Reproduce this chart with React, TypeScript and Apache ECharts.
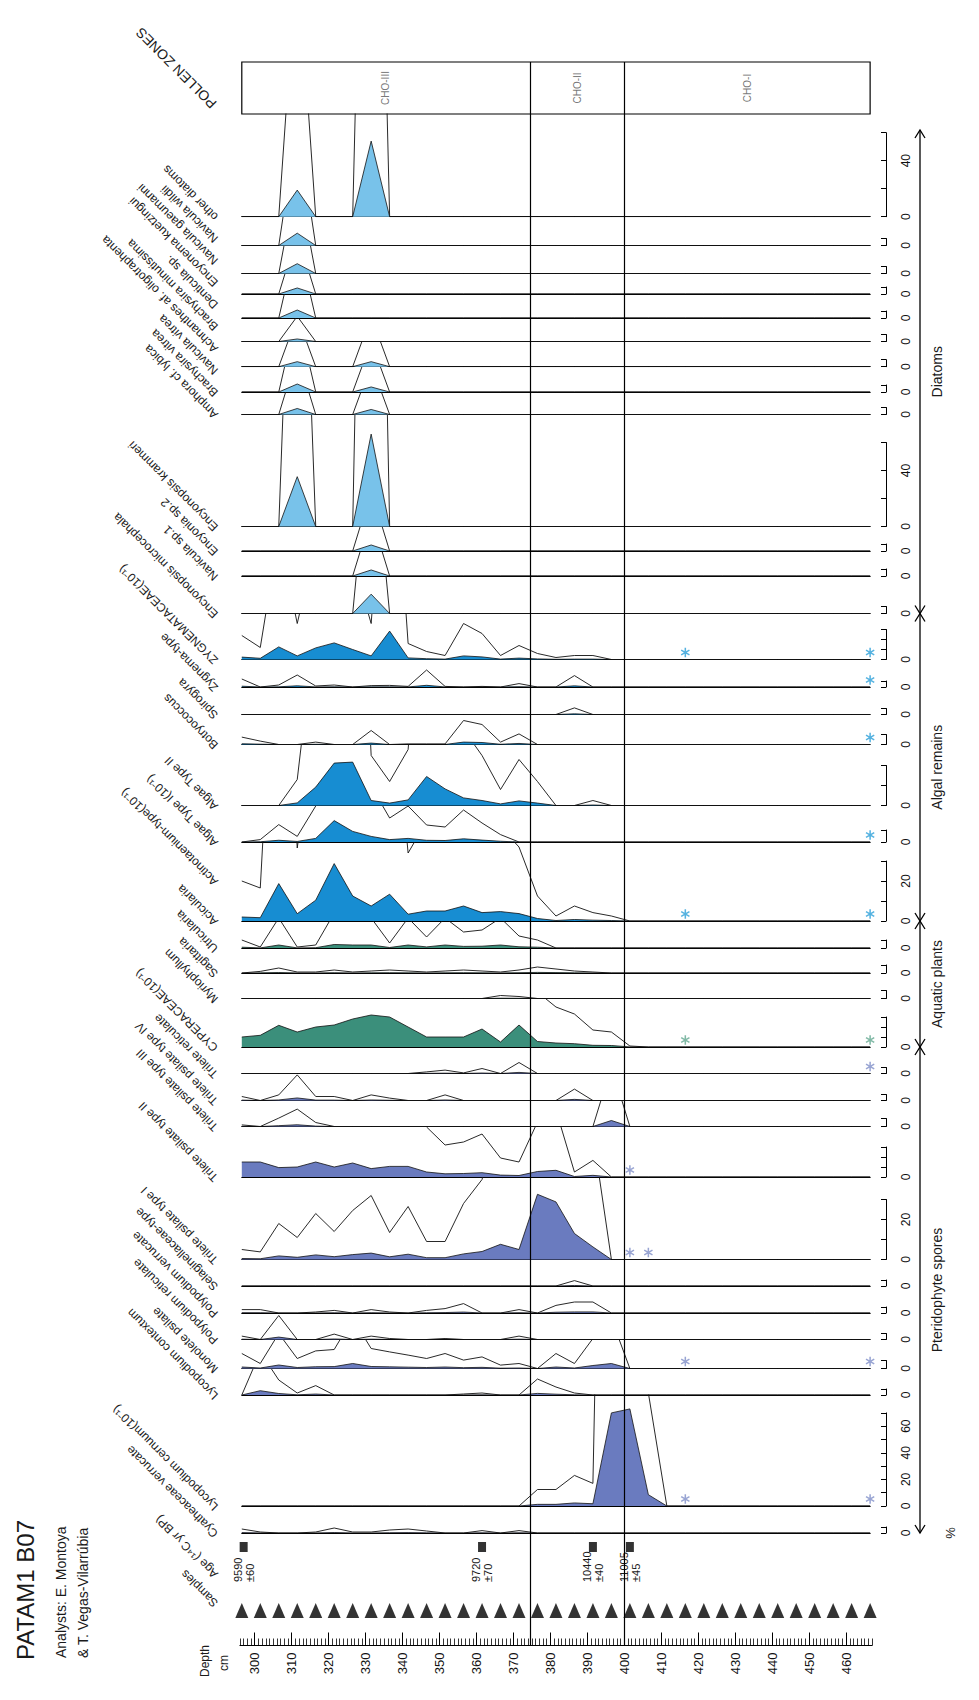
import React, { useEffect, useRef } from "react";
import * as echarts from "echarts";

const FONT = "'Liberation Sans', Arial, Helvetica, sans-serif";

// ---------------- data ----------------
const depths = [
  296.5, 301.5, 306.5, 311.5, 316.5, 321.5, 326.5, 331.5, 336.5, 341.5, 346.5, 351.5,
  356.5, 361.5, 366.5, 371.5, 376.5, 381.5, 386.5, 391.5, 396.5, 401.5, 406.5, 411.5,
  416.5, 421.5, 426.5, 431.5, 436.5, 441.5, 446.5, 451.5, 456.5, 461.5, 466.5,
];
const zoneNames = ["CHO-III", "CHO-II", "CHO-I"];
const zoneBounds = [374.5, 400];
const ageDepths = [297, 361.5, 391.5, 401.5];
const ageValues = ["9590", "9720", "10440", "11005"];
const ageErrors = ["±60", "±70", "±40", "±45"];

// diatoms (%)
const otherDiatoms = [0, 0, 0, 19, 0, 0, 0, 54];
const navWildii = [0, 0, 0, 8.8];
const navGaeumanni = [0, 0, 0, 7];
const encKuetzingui = [0, 0, 0, 4.3];
const denticulaSp = [0, 0, 0, 5.7];
const brachyMinutissima = [0, 0, 0, 1.8];
const achnOligotraphenta = [0, 0, 0, 3.6, 0, 0, 0, 3.6];
const navVitrea = [0, 0, 0, 5.7, 0, 0, 0, 3.6];
const amphoraLybica = [0, 0, 0, 4.3, 0, 0, 0, 3.6];
const encKrammeri = [0, 0, 0, 35.6, 0, 0, 0, 66];
const encyoniaSp2 = [0, 0, 0, 0, 0, 0, 0, 4.3];
const naviculaSp1 = [0, 0, 0, 0, 0, 0, 0, 4.3];
const encMicrocephala = [0, 0, 0, 0, 0, 0, 0, 13.8];
// algal remains (%)
const zygnemataceae = [1.2, 0.6, 6.3, 1.8, 5.8, 8.3, 5, 1.8, 14.2, 0.8, 0.4, 0.2, 1.8, 1.3, 0.2, 0.7, 0.3, 0.1, 0.2, 0.2];
const zygnemaType = [0.4, 0, 0.1, 0.6, 0.05, 0.1, 0, 0.07, 0.08, 0.03, 0.85, 0.03, 0, 0.03, 0, 0.17, 0, 0, 0.57];
const spirogyra = [0, 0, 0, 0, 0, 0, 0, 0, 0, 0, 0, 0, 0, 0, 0, 0, 0, 0, 0.33];
const botryococcus = [0.37, 0.17, 0, 0, 0.12, 0, 0, 0.7, 0, 0.03, 0.03, 0.03, 1.2, 1.0, 0.12, 0.53];
const algaeTypeII = [0, 0, 0, 1.3, 9.2, 21.2, 21.7, 2.5, 1.2, 2.8, 14.5, 8.3, 3.8, 2.5, 0.8, 2.3, 1.2, 0, 0, 0.25];
const algaeTypeI = [0, 0.12, 0.87, 0.28, 1.8, 10.7, 5.3, 2.8, 1.2, 1.8, 0.85, 0.75, 1.6, 0.95, 0.37];
const acicularia = [2, 1.65, 18.7, 3.65, 10.4, 28.7, 12.5, 7.5, 13.4, 3.4, 5, 5, 7.5, 4.2, 4.7, 3.7, 1.25, 0.25, 0.75, 0.42, 0.25];
// aquatic plants (%)
const utricularia = [0.4, 0.05, 1.5, 0.05, 0.15, 1.75, 1.5, 1.5, 0.25, 1.5, 0.55, 1.5, 0.8, 0.9, 1.5, 0.6, 0.4];
const sagittaria = [0, 0.08, 0.25, 0.05, 0.05, 0.15, 0.05, 0.1, 0.15, 0.1, 0.05, 0.1, 0.15, 0.1, 0.05, 0.15, 0.3, 0.2, 0.1, 0.05];
const myriophyllum = [0, 0, 0, 0, 0, 0, 0, 0, 0, 0, 0, 0, 0, 0, 0.15, 0.1];
const cyperaceae = [5, 5.85, 10.85, 7.5, 10, 11, 14, 16, 15, 10, 5, 5, 5, 9, 2.5, 11, 2.75, 2, 1.65, 0.85, 0.75, 0.05];
// pteridophyte spores (%)
const trileteReticulate = [0, 0, 0, 0, 0, 0, 0, 0, 0, 0, 0.08, 0.17, 0.03, 0.25, 0, 0.55];
const trileteIV = [0.2, 0, 0.28, 1.28, 0.2, 0.2, 0, 0.28, 0.12, 0, 0, 0.28, 0, 0, 0, 0, 0, 0, 0.57];
const trileteIII = [0.08, 0, 0.42, 0.87, 0.2, 0, 0, 0, 0, 0, 0, 0, 0, 0, 0, 0, 0, 0, 0, 0, 3];
const trileteII = [7.5, 7.5, 4.7, 5, 7.5, 5, 7, 4.2, 5.3, 5.3, 2.5, 1.6, 1.75, 2.15, 0.95, 0.75, 2.75, 3.35, 0.25, 0.83];
const trileteI = [0.5, 0.38, 1.8, 1.1, 2.3, 1.4, 2.45, 3.2, 1.35, 2.65, 0.9, 0.9, 2.8, 4, 7.6, 5, 32.6, 28.8, 13, 6.3];
const selaginellaceae = [0, 0, 0, 0, 0, 0, 0, 0, 0, 0, 0, 0, 0, 0, 0, 0, 0, 0, 0.27];
const polypodiumVerrucate = [0.17, 0.17, 0, 0, 0.05, 0.13, 0, 0.17, 0.05, 0, 0.13, 0.22, 0.47, 0, 0, 0.17, 0, 0.38, 0.55, 0.55];
const polypodiumReticulate = [0.17, 0, 1.2, 0, 0, 0.27, 0, 0.17, 0.05, 0, 0, 0.05, 0, 0, 0, 0.17];
const monoletePsilate = [0.75, 0.25, 1.75, 0.5, 0.88, 0.95, 2.5, 1.0, 0.83, 0.67, 0.5, 0.75, 0.42, 0.58, 0.17, 0.25, 0, 0.75, 0.25, 1.5, 2.5];
const lycoContextum = [0, 2.15, 0.75, 0.1, 0.47, 0, 0, 0, 0, 0, 0, 0, 0.05, 0.1, 0, 0, 0.8, 0.4, 0.1];
const lycoCernuum = [0, 0, 0, 0, 0, 0, 0, 0, 0, 0, 0, 0, 0, 0, 0, 0, 1.24, 1.24, 2.3, 1.7, 70, 73, 8.5];
const cyatheaceae = [0.2, 0.05, 0, 0, 0.05, 0.25, 0.05, 0.05, 0.15, 0.2, 0.1, 0, 0, 0.12, 0, 0.12];

// presence marks (depths)
const starsAB = [416.5, 466.5];
const starsB = [466.5];

const taxa = [
  { name: "other diatoms", values: otherDiatoms, group: "d", stars: [] as number[] },
  { name: "Navicula wildii", values: navWildii, group: "d", stars: [] },
  { name: "Navicula gaeumanni", values: navGaeumanni, group: "d", stars: [] },
  { name: "Encyonema kuetzingui", values: encKuetzingui, group: "d", stars: [] },
  { name: "Denticula sp.", values: denticulaSp, group: "d", stars: [] },
  { name: "Brachysira minutissima", values: brachyMinutissima, group: "d", stars: [] },
  { name: "Achnanthes af. oligotraphenta", values: achnOligotraphenta, group: "d", stars: [] },
  { name: "Navicula vitrea", values: navVitrea, group: "d", stars: [] },
  { name: "Amphora cf. lybica", values: amphoraLybica, group: "d", stars: [] },
  { name: "Encyonopsis krammeri", values: encKrammeri, group: "d", stars: [] },
  { name: "Encyonia sp.2", values: encyoniaSp2, group: "d", stars: [] },
  { name: "Navicula sp.1", values: naviculaSp1, group: "d", stars: [] },
  { name: "Encyonopsis microcephala", values: encMicrocephala, group: "d", stars: [] },
  { name: "ZYGNEMATACEAE(10⁻¹)", values: zygnemataceae, group: "a", stars: starsAB },
  { name: "Zygnema-type", values: zygnemaType, group: "a", stars: starsB },
  { name: "Spirogyra", values: spirogyra, group: "a", stars: [] },
  { name: "Botryococcus", values: botryococcus, group: "a", stars: starsB },
  { name: "Algae Type II", values: algaeTypeII, group: "a", stars: [] },
  { name: "Algae Type I(10⁻¹)", values: algaeTypeI, group: "a", stars: starsB },
  { name: "Acicularia", values: acicularia, group: "a", stars: starsAB },
  { name: "Utricularia", values: utricularia, group: "q", stars: [] },
  { name: "Sagittaria", values: sagittaria, group: "q", stars: [] },
  { name: "Myriophyllum", values: myriophyllum, group: "q", stars: [] },
  { name: "CYPERACEAE(10⁻¹)", values: cyperaceae, group: "q", stars: starsAB },
  { name: "Trilete reticulate", values: trileteReticulate, group: "p", stars: starsB },
  { name: "Trilete psilate type IV", values: trileteIV, group: "p", stars: [] },
  { name: "Trilete psilate type III", values: trileteIII, group: "p", stars: [] },
  { name: "Trilete psilate type II", values: trileteII, group: "p", stars: [401.5] },
  { name: "Trilete psilate type I", values: trileteI, group: "p", stars: [401.5, 406.5] },
  { name: "Selaginellaceae-type", values: selaginellaceae, group: "p", stars: [] },
  { name: "Polypodium verrucate", values: polypodiumVerrucate, group: "p", stars: [] },
  { name: "Polypodium reticulate", values: polypodiumReticulate, group: "p", stars: [] },
  { name: "Monolete psilate", values: monoletePsilate, group: "p", stars: starsAB },
  { name: "Lycopodium contextum", values: lycoContextum, group: "p", stars: [] },
  { name: "Lycopodium cernuum(10⁻¹)", values: lycoCernuum, group: "p", stars: starsAB },
  { name: "Cyatheaceae verrucate", values: cyatheaceae, group: "p", stars: [] },
];

// labels of the densely written diatom block (spread over its rows)
const topDiatomLabels = [
  "other diatoms", "Navicula wildii", "Navicula gaeumanni", "Encyonema kuetzingui", "Denticula sp.",
  "Brachysira minutissima", "Achnanthes af. oligotraphenta", "Navicula vitrea", "Brachysira vitrea", "Amphora cf. lybica",
];
const betweenLabel = "Actinotaenium-type(10⁻¹)";

const groupLabels = ["Diatoms", "Algal remains", "Aquatic plants", "Pteridophyte spores"];

// ---------------- layout ----------------
const DEPTH_MIN = 296.5;
const DEPTH_MAX = 466.5;
const X0 = 241.8;
const XK = 3.696;
const PLOT_W = (DEPTH_MAX - DEPTH_MIN) * XK;
const BOX_TOP = 62;
const BOX_BOTTOM = 114;
const RULER_Y = 1645.5;
const SCALE_X = 892;
const ARROW_X = 920;
const GROUP_X = 937;
const EXAG = 10;
const NAME_X = 216;

const rowBase = [
  216.7, 245.5, 273.5, 294, 318, 341.5, 366.7, 392, 414.5,
  526.5, 551, 576, 613.5,
  659.5, 687, 714.5, 744.5, 805.5, 842, 921,
  948, 973, 998.5, 1047,
  1073.5, 1100.5, 1126.5, 1177, 1259.5, 1286, 1313, 1339.5, 1368.5, 1395, 1506, 1533,
];
// [axis max %, tick step, label step] of the small scale at the right of each row
const rowScale = [
  [60, 20, 40], [5, 5, 99], [5, 5, 99], [5, 5, 99], [5, 5, 99], [5, 5, 99], [5, 5, 99], [5, 5, 99], [5, 5, 99],
  [60, 20, 40], [5, 5, 99], [5, 5, 99], [5, 5, 99],
  [15, 5, 99], [3, 3, 99], [3, 3, 99], [5, 5, 99], [20, 10, 99], [6, 6, 99], [30, 10, 20],
  [4, 4, 99], [4, 4, 99], [4, 4, 99], [15, 5, 99],
  [3, 3, 99], [3, 3, 99], [4, 4, 99], [15, 5, 99], [30, 10, 20], [3, 3, 99], [3, 3, 99], [3, 3, 99], [4, 4, 99], [3, 3, 99], [70, 10, 20], [3, 3, 99],
];
const pxPerPct = (i: number) => (taxa[i].group === "d" ? 1.4 : taxa[i].name.startsWith("Lycopodium cernuum") ? 1.33 : 2);

const fillColor: Record<string, string> = { d: "#78c2ea", a: "#178dd2", q: "#3b8f7b", p: "#6a7bbf" };
const starColor: Record<string, string> = { d: "#78c2ea", a: "#2b9fd8", q: "#62a890", p: "#7f8fc8" };

const STAR =
  "path://M-0.8,-5L0.8,-5L0.8,5L-0.8,5Z M3.93,-3.19L4.73,-1.81L-3.93,3.19L-4.73,1.81Z M4.73,1.81L3.93,3.19L-4.73,-1.81L-3.93,-3.19Z";

function buildOption() {
  const grid: any[] = [];
  const xAxis: any[] = [];
  const yAxis: any[] = [];
  const series: any[] = [];
  const addGrid = (g: any, xa: any, ya: any) => {
    grid.push(g);
    const idx = grid.length - 1;
    xAxis.push({ ...xa, gridIndex: idx });
    yAxis.push({ ...ya, gridIndex: idx });
    return idx;
  };
  const hiddenDepthAxis = { type: "value", min: DEPTH_MIN, max: DEPTH_MAX, show: false };

  taxa.forEach((t, i) => {
    const base = rowBase[i];
    const top = i === 0 ? BOX_BOTTOM : rowBase[i - 1];
    const K = pxPerPct(i);
    const h = base - top;
    const gi = addGrid(
      { left: X0, top, width: PLOT_W, height: h },
      {
        type: "value", min: DEPTH_MIN, max: DEPTH_MAX,
        axisLine: { show: true, onZero: false, lineStyle: { color: "#000", width: 1.2 } },
        axisTick: { show: false }, axisLabel: { show: false }, splitLine: { show: false },
      },
      { type: "value", min: 0, max: h / K, show: false }
    );
    const pts = depths.map((d, j) => [d, t.values[j] ?? 0]);
    series.push({
      type: "line", xAxisIndex: gi, yAxisIndex: gi, silent: true, clip: true, symbol: "none", z: 2,
      data: pts.map(([d, v]) => [d, v * EXAG]),
      lineStyle: { color: "#111", width: 0.9 },
    });
    series.push({
      type: "line", xAxisIndex: gi, yAxisIndex: gi, silent: true, clip: true, symbol: "none", z: 3,
      data: pts,
      lineStyle: { color: "#111", width: 0.8 },
      areaStyle: { color: fillColor[t.group], opacity: 1 },
    });
    if (t.stars.length) {
      series.push({
        type: "scatter", xAxisIndex: gi, yAxisIndex: gi, silent: true, z: 4,
        data: t.stars.map((d) => [d, 7 / K]),
        symbol: STAR, symbolSize: [9, 9.5],
        itemStyle: { color: starColor[t.group] },
      });
    }
    const [amax, tick, lstep] = rowScale[i];
    const sh = amax * K;
    addGrid(
      { left: SCALE_X - 6, top: base - sh, width: 6, height: sh },
      { type: "value", min: 0, max: 1, show: false },
      {
        type: "value", min: 0, max: amax, interval: tick, position: "right",
        axisLine: { show: true, lineStyle: { color: "#000", width: 1 } },
        axisTick: { show: true, inside: true, length: 5, lineStyle: { color: "#000", width: 1 } },
        splitLine: { show: false },
        axisLabel: {
          show: true, rotate: 90, margin: 8, fontSize: 12, color: "#111", fontFamily: FONT,
          formatter: (v: number) => (v % lstep === 0 ? String(v) : ""),
        },
      }
    );
  });

  // pollen zones box
  const zi = addGrid(
    { left: X0, top: BOX_TOP, width: PLOT_W, height: BOX_BOTTOM - BOX_TOP, show: true, borderColor: "#000", borderWidth: 1.2, backgroundColor: "transparent" },
    hiddenDepthAxis,
    { type: "value", min: 0, max: 1, show: false }
  );
  const edges = [DEPTH_MIN, ...zoneBounds, DEPTH_MAX];
  series.push({
    type: "scatter", xAxisIndex: zi, yAxisIndex: zi, silent: true, symbolSize: 1,
    itemStyle: { color: "rgba(0,0,0,0)" },
    data: zoneNames.map((n, k) => ({ value: [(edges[k] + edges[k + 1]) / 2, 0.5], name: n })),
    label: {
      show: true, position: "inside", rotate: 90, fontSize: 10, color: "#555", fontFamily: FONT,
      formatter: (p: any) => p.name,
    },
  });

  // zone boundary lines through the whole diagram
  const li = addGrid(
    { left: X0, top: BOX_TOP, width: PLOT_W, height: RULER_Y - BOX_TOP },
    hiddenDepthAxis,
    { type: "value", min: 0, max: 1, show: false }
  );
  series.push({
    type: "line", xAxisIndex: li, yAxisIndex: li, silent: true, symbol: "none",
    data: [[zoneBounds[0], 0]], lineStyle: { opacity: 0 }, z: 5,
    markLine: {
      silent: true, symbol: ["none", "none"], label: { show: false },
      lineStyle: { color: "#000", width: 1.2, type: "solid" },
      data: zoneBounds.map((b) => ({ xAxis: b })),
    },
  });

  // age row
  const ai = addGrid(
    { left: X0, top: 1537, width: PLOT_W, height: 20 },
    hiddenDepthAxis,
    { type: "value", min: 0, max: 1, show: false }
  );
  series.push({
    type: "scatter", xAxisIndex: ai, yAxisIndex: ai, silent: true, symbol: "rect", symbolSize: [8, 10],
    itemStyle: { color: "#000" }, data: ageDepths.map((d) => [d, 0.5]),
  });

  // samples row
  const si = addGrid(
    { left: X0, top: 1600, width: PLOT_W, height: 21 },
    hiddenDepthAxis,
    { type: "value", min: 0, max: 1, show: false }
  );
  series.push({
    type: "scatter", xAxisIndex: si, yAxisIndex: si, silent: true, symbol: "triangle", symbolSize: [13, 15],
    itemStyle: { color: "#000" }, data: depths.map((d) => [d, 0.5]),
  });

  // depth ruler: 1 cm ticks
  addGrid(
    { left: X0 + (296 - DEPTH_MIN) * XK, top: RULER_Y - 25, width: (467 - 296) * XK, height: 25 },
    {
      type: "value", min: 296, max: 467, interval: 1,
      axisLine: { show: true, onZero: false, lineStyle: { color: "#000", width: 1.2 } },
      axisTick: { show: true, inside: true, length: 7, lineStyle: { color: "#000", width: 0.8 } },
      axisLabel: { show: false }, splitLine: { show: false },
    },
    { type: "value", min: 0, max: 1, show: false }
  );
  // depth ruler: 10 cm ticks and labels
  addGrid(
    { left: X0 + (300 - DEPTH_MIN) * XK, top: RULER_Y - 25, width: 160 * XK, height: 25 },
    {
      type: "value", min: 300, max: 460, interval: 10,
      axisLine: { show: false },
      axisTick: { show: true, inside: true, length: 13, lineStyle: { color: "#000", width: 1 } },
      axisLabel: { show: true, rotate: 90, margin: 7, fontSize: 13, color: "#111", fontFamily: FONT },
      splitLine: { show: false },
    },
    { type: "value", min: 0, max: 1, show: false }
  );
  series.push({ type: "line", xAxisIndex: grid.length - 1, yAxisIndex: grid.length - 1, data: [], silent: true });
  series.push({ type: "line", xAxisIndex: grid.length - 2, yAxisIndex: grid.length - 2, data: [], silent: true });

  return {
    option: {
      animation: false,
      backgroundColor: "#ffffff",
      grid, xAxis, yAxis, series,
    },
    ageGrid: ai,
  };
}

function buildGraphics(chart: any, ageGrid: number) {
  const g: any[] = [];
  const txt = (text: string, x: number, y: number, rot: number, size: number, extra: any = {}) =>
    g.push({
      type: "text", x, y, rotation: rot, silent: true,
      style: { text, fill: "#1a1a1a", fontSize: size, fontFamily: FONT, align: "left", verticalAlign: "middle", ...extra },
    });
  const UP_LEFT = (3 * Math.PI) / 4;
  const UP = Math.PI / 2;

  // title block
  txt("PATAM1 B07", 25, 1660, UP, 24);
  txt("Analysts: E. Montoya", 61, 1658, UP, 14);
  txt("& T. Vegas-Vilarrúbia", 83, 1658, UP, 14);
  txt("Depth", 205, 1677, UP, 12);
  txt("cm", 224, 1671, UP, 12);
  txt("POLLEN ZONES", 214, 106, UP_LEFT, 14);

  // taxon names
  const topFirst = rowBase[0] + 2;
  const topLast = rowBase[8] + 2;
  topDiatomLabels.forEach((n, k) => {
    txt(n, NAME_X, topFirst + ((topLast - topFirst) * k) / (topDiatomLabels.length - 1), UP_LEFT, 12);
  });
  taxa.forEach((t, i) => {
    if (i < 9) return;
    txt(t.name, NAME_X, rowBase[i] + 2.5, UP_LEFT, 12);
  });
  txt(betweenLabel, NAME_X, (rowBase[18] + rowBase[19]) / 2 + 2, UP_LEFT, 12);
  txt("Age (¹⁴C yr BP)", NAME_X, 1576, UP_LEFT, 12);
  txt("Samples", NAME_X, 1605, UP_LEFT, 12);

  // ages
  ageDepths.forEach((d, k) => {
    const p = chart.convertToPixel({ gridIndex: ageGrid }, [d, 0.5]);
    txt(ageValues[k], p[0] - 6, p[1] + 35, UP, 11);
    txt(ageErrors[k], p[0] + 6, p[1] + 35, UP, 11);
  });

  // group arrows
  const bounds = [
    [130, rowBase[12]],
    [rowBase[12], rowBase[19]],
    [rowBase[19], rowBase[23]],
    [rowBase[23], rowBase[35]],
  ];
  bounds.forEach(([a, b], k) => {
    const line = { stroke: "#000", lineWidth: 1.3, fill: null };
    g.push({ type: "line", silent: true, shape: { x1: ARROW_X, y1: a, x2: ARROW_X, y2: b }, style: line });
    g.push({ type: "polyline", silent: true, shape: { points: [[ARROW_X - 5, a + 8], [ARROW_X, a], [ARROW_X + 5, a + 8]] }, style: line });
    g.push({ type: "polyline", silent: true, shape: { points: [[ARROW_X - 5, b - 8], [ARROW_X, b], [ARROW_X + 5, b - 8]] }, style: line });
    g.push({
      type: "text", x: GROUP_X, y: (a + b) / 2, rotation: UP, silent: true,
      style: { text: groupLabels[k], fill: "#1a1a1a", fontSize: 14, fontFamily: FONT, align: "center", verticalAlign: "middle" },
    });
  });
  txt("%", 950, 1533, UP, 13, { align: "center" });
  return g;
}

export default function App() {
  const ref = useRef<HTMLDivElement>(null);
  useEffect(() => {
    if (!ref.current) return;
    const chart = echarts.init(ref.current, undefined, { renderer: "svg" });
    const { option, ageGrid } = buildOption();
    chart.setOption(option);
    chart.setOption({ graphic: buildGraphics(chart, ageGrid) });
    return () => chart.dispose();
  }, []);
  return <div ref={ref} style={{ position: "absolute", left: 0, top: 0, width: 979, height: 1700, background: "#fff" }} />;
}
